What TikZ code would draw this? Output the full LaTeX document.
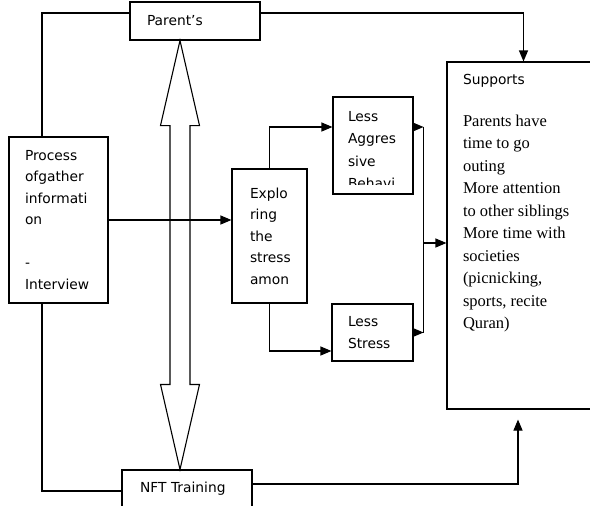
\documentclass[tikz,border=0pt]{standalone}
\usepackage{fontspec}
\setmainfont{Liberation Serif}
\newfontfamily\labelfont{DejaVu Sans}
\usetikzlibrary{arrows.meta,positioning,calc}
\tikzset{
  >={Triangle[length=11pt,width=9pt]},
  block/.style={draw, inner xsep=16pt, inner ysep=0pt, align=left, font=\labelfont\fontsize{13.8}{21.5}\selectfont},
  blocktext/.style={draw=none, inner sep=0pt, align=left, font=\labelfont\fontsize{13.8}{21.5}\selectfont},
  supptext/.style={inner sep=0pt, align=left, font=\fontsize{16.5}{22.5}\selectfont},
  bigarrow/.style={line width=1.1pt, line join=miter},
}

\begin{document}
\begin{tikzpicture}[x=1pt, y=-1pt, line width=1.1pt]
  \useasboundingbox (0,0) rectangle (590,506);

  \node[block, text width=96pt, inner xsep=17pt, minimum height=38pt] (parent) at (195,21) {Parent’s};
  \node[block, text width=67pt, minimum height=166pt] (process) at (58.5,220) {Process\\ofgather\\informati\\on\\\mbox{}\\-\\Interview};
  \node[block, text width=39pt, inner xsep=18pt, minimum height=134pt] (explore) at (269.5,236) {Explo\\ring\\the\\stress\\amon};
  \node[block, minimum width=80pt, minimum height=97pt] (aggr) at (373,145.5) {};
  \begin{scope}
    \clip (aggr.north west) rectangle ([yshift=10pt]aggr.south east);
    \node[blocktext, anchor=north west, font=\labelfont\fontsize{13.8}{22.5}\selectfont] (aggrtext) at ([xshift=15pt,yshift=-14pt]aggr.north west) {Less\\Aggres\\sive\\Behavi};
  \end{scope}
  \node[block, text width=49pt, minimum height=57pt] (lstress) at (372.5,332.5) {Less\\Stress};
  \node[block, minimum width=153pt, minimum height=347pt] (supports) at (523.5,235.5) {};
  \node[blocktext, anchor=west] (supphead) at ($(supports.north west)+(16,19)$) {Supports};
  \node[supptext, anchor=north west] (suptxt) at ($(supports.north west)+(16,53)$) {Parents have\\time to go\\outing\\More attention\\to other siblings\\More time with\\societies\\(picnicking,\\sports, recite\\Quran)};
  \node[block, text width=94pt, inner xsep=18pt, minimum height=37pt] (nft) at (187,488.5) {NFT Training};

  % outer loop
  \draw ([yshift=8pt]parent.west) -| ([xshift=-16.5pt]process.north);
  \draw ([xshift=-16.5pt]process.south) |- ([yshift=-2.5pt]nft.west);
  \draw[->] ([yshift=8pt]parent.east) -| (supports.north);
  \draw[->] ([yshift=4.5pt]nft.east) -| ([xshift=-5.5pt,yshift=-10pt]supports.south);

  % middle flow
  \draw[->] (process.east) -- (process.east -| explore.west);
  \draw[->] (explore.north) |- ([yshift=18.5pt]aggr.west);
  \draw[->] (explore.south) |- ([yshift=-18.5pt]lstress.west);
  \coordinate (jtop) at ($(aggr.east)+(10,-18.5)$);
  \coordinate (jbot) at (lstress.east -| jtop);
  \coordinate (jmid) at (423,243);
  \draw[->] ([yshift=18.5pt]aggr.east) -- (jtop);
  \draw[->] (lstress.east) -- (jbot);
  \draw (jtop) -- (jbot);
  \draw[->] (jmid) -- (jmid -| supports.west);

  % double arrow between parent and training
  \coordinate (dtop) at ([xshift=-15pt]parent.south);
  \coordinate (dbot) at ([xshift=-7pt]nft.north);
  \draw[bigarrow] (dtop) -- ($(dtop)+(19.5,85)$) -- ($(dtop)+(10,85)$) -- ($(dbot)+(10,-85)$)
    -- ($(dbot)+(19.5,-85)$) -- (dbot) -- ($(dbot)+(-19.5,-85)$) -- ($(dbot)+(-10,-85)$)
    -- ($(dtop)+(-10,85)$) -- ($(dtop)+(-19.5,85)$) -- cycle;
\end{tikzpicture}
\end{document}
